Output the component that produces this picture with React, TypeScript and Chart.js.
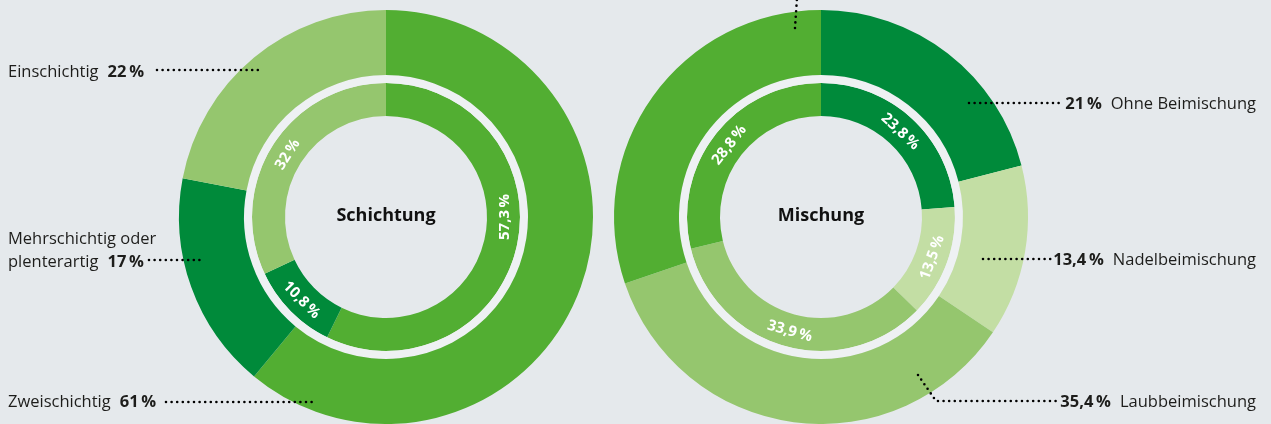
import React, { useEffect, useRef } from "react";
import { Chart, registerables } from "chart.js";

Chart.register(...registerables);

// ---------- data ----------
const schichtungCategories = ["Zweischichtig", "Mehrschichtig oder plenterartig", "Einschichtig"];
const schichtungOuter = [61, 17, 22];
const schichtungInner = [57.3, 10.8, 32];

const mischungCategories = ["Ohne Beimischung", "Nadelbeimischung", "Laubbeimischung", "Sonstige"];
const mischungOuter = [21, 13.4, 35.4, 30.2];
const mischungInner = [23.8, 13.5, 33.9, 28.8];

const schichtungTitle = "Schichtung";
const mischungTitle = "Mischung";

// ---------- style ----------
const BG = "#e5e9ec";
const GAP = "#eef1f3";
const MEDIUM = "#52ae32";
const DARK = "#008a3a";
const LIGHT = "#95c66e";
const PALE = "#c3dea4";
const TEXT = "#1d1d1b";
const FONT = "'Open Sans', 'Noto Sans', sans-serif";
const W = 1271;
const H = 424;

const fmt = (v: number) => String(v).replace(".", ",") + "\u2009%";

type Piece = { t: string; bold?: boolean };
type OuterLabel = {
  lines: { pieces: Piece[]; baseline: number }[];
  x: number;
  align: "left" | "right";
  dots: number[][];
};

function drawDots(ctx: CanvasRenderingContext2D, pts: number[][]) {
  ctx.save();
  ctx.strokeStyle = "#000";
  ctx.lineWidth = 2.6;
  ctx.lineCap = "round";
  ctx.setLineDash([0, 5.6]);
  ctx.beginPath();
  pts.forEach((p, i) => (i === 0 ? ctx.moveTo(p[0], p[1]) : ctx.lineTo(p[0], p[1])));
  ctx.stroke();
  ctx.restore();
}

function drawPieces(ctx: CanvasRenderingContext2D, pieces: Piece[], x: number, baseline: number, align: "left" | "right") {
  const gap = 9;
  const fonts = pieces.map((p) => `${p.bold ? "700" : "400"} 16.5px ${FONT}`);
  const widths = pieces.map((p, i) => {
    ctx.font = fonts[i];
    return ctx.measureText(p.t).width;
  });
  const total = widths.reduce((a, b) => a + b, 0) + gap * (pieces.length - 1);
  let cx = align === "left" ? x : x - total;
  ctx.fillStyle = TEXT;
  ctx.textAlign = "left";
  ctx.textBaseline = "alphabetic";
  pieces.forEach((p, i) => {
    ctx.font = fonts[i];
    ctx.fillText(p.t, cx, baseline);
    cx += widths[i] + gap;
  });
}

type Cfg = {
  categories: string[];
  outer: number[];
  inner: number[];
  colors: string[];
  padding: { left: number; right: number; top: number; bottom: number };
  title: string;
  labelAngle: (number | null)[];
  outerLabels: OuterLabel[];
  extraDots: number[][][];
};

function labelPlugin(cfg: Cfg) {
  return {
    id: "ringLabels",
    afterDatasetsDraw(chart: any) {
      const ctx: CanvasRenderingContext2D = chart.ctx;
      const meta = chart.getDatasetMeta(2);
      let cxc = 0;
      let cyc = 0;
      meta.data.forEach((arc: any, i: number) => {
        const { x, y, startAngle, endAngle, innerRadius, outerRadius } = arc.getProps(
          ["x", "y", "startAngle", "endAngle", "innerRadius", "outerRadius"],
          true
        );
        cxc = x;
        cyc = y;
        let mid = (startAngle + endAngle) / 2;
        const ov = cfg.labelAngle[i];
        if (ov != null) mid = -Math.PI / 2 + (ov * Math.PI) / 180;
        const r = (innerRadius + outerRadius) / 2;
        const px = x + r * Math.cos(mid);
        const py = y + r * Math.sin(mid);
        let deg = (((mid + Math.PI / 2) * 180) / Math.PI) % 360;
        if (deg < 0) deg += 360;
        const rot = deg >= 89.9 && deg <= 270 ? deg - 180 : deg > 270 ? deg - 360 : deg;
        ctx.save();
        ctx.translate(px, py);
        ctx.rotate((rot * Math.PI) / 180);
        ctx.font = `700 15px ${FONT}`;
        ctx.fillStyle = "#ffffff";
        ctx.textAlign = "center";
        ctx.textBaseline = "middle";
        ctx.fillText(fmt(cfg.inner[i]), 0, 1);
        ctx.restore();
      });

      // centre title
      ctx.save();
      ctx.font = `700 18px ${FONT}`;
      ctx.fillStyle = "#111";
      ctx.textAlign = "center";
      ctx.textBaseline = "alphabetic";
      ctx.fillText(cfg.title, cxc, cyc + 4);
      ctx.restore();

      // outer labels with dotted leaders
      cfg.outerLabels.forEach((l) => {
        drawDots(ctx, l.dots);
        l.lines.forEach((ln) => drawPieces(ctx, ln.pieces, l.x, ln.baseline, l.align));
      });
      cfg.extraDots.forEach((d) => drawDots(ctx, d));
    },
  };
}

function makeChart(canvas: HTMLCanvasElement, cfg: Cfg) {
  return new Chart(canvas, {
    type: "doughnut",
    data: {
      labels: cfg.categories,
      datasets: [
        { data: cfg.outer, backgroundColor: cfg.colors, borderWidth: 0, weight: 65 } as any,
        { data: [1], backgroundColor: [GAP], borderWidth: 0, weight: 8 } as any,
        { data: cfg.inner, backgroundColor: cfg.colors, borderWidth: 0, weight: 33 } as any,
      ],
    },
    options: {
      responsive: false,
      maintainAspectRatio: false,
      animation: false,
      events: [],
      cutout: 101,
      layout: { padding: cfg.padding },
      plugins: { legend: { display: false }, tooltip: { enabled: false } },
    } as any,
    plugins: [labelPlugin(cfg)],
  });
}

const leftCfg: Cfg = {
  categories: schichtungCategories,
  outer: schichtungOuter,
  inner: schichtungInner,
  colors: [MEDIUM, DARK, LIGHT],
  padding: { left: 179, right: W - 593, top: 10, bottom: 0 },
  title: schichtungTitle,
  labelAngle: [90, null, null],
  outerLabels: [
    {
      lines: [{ pieces: [{ t: schichtungCategories[2] }, { t: fmt(schichtungOuter[2]), bold: true }], baseline: 77 }],
      x: 8,
      align: "left",
      dots: [[157, 70], [259, 70]],
    },
    {
      lines: [
        { pieces: [{ t: "Mehrschichtig oder" }], baseline: 244 },
        { pieces: [{ t: "plenterartig" }, { t: fmt(schichtungOuter[1]), bold: true }], baseline: 267 },
      ],
      x: 8,
      align: "left",
      dots: [[149, 260], [200, 260]],
    },
    {
      lines: [{ pieces: [{ t: schichtungCategories[0] }, { t: fmt(schichtungOuter[0]), bold: true }], baseline: 407 }],
      x: 8,
      align: "left",
      dots: [[166, 402], [313, 402]],
    },
  ],
  extraDots: [],
};

const rightCfg: Cfg = {
  categories: mischungCategories,
  outer: mischungOuter,
  inner: mischungInner,
  colors: [DARK, PALE, LIGHT, MEDIUM],
  padding: { left: 614, right: W - 1028, top: 10, bottom: 0 },
  title: mischungTitle,
  labelAngle: [null, null, null, null],
  outerLabels: [
    {
      lines: [{ pieces: [{ t: fmt(mischungOuter[0]), bold: true }, { t: mischungCategories[0] }], baseline: 109 }],
      x: 1256,
      align: "right",
      dots: [[969, 103], [1062, 103]],
    },
    {
      lines: [{ pieces: [{ t: fmt(mischungOuter[1]), bold: true }, { t: mischungCategories[1] }], baseline: 265 }],
      x: 1256,
      align: "right",
      dots: [[983, 259], [1052, 259]],
    },
    {
      lines: [{ pieces: [{ t: fmt(mischungOuter[2]), bold: true }, { t: mischungCategories[2] }], baseline: 407 }],
      x: 1256,
      align: "right",
      dots: [[918, 375], [936, 401], [1058, 401]],
    },
  ],
  extraDots: [[[795, 28], [797, -2]]],
};

export default function App() {
  const leftRef = useRef<HTMLCanvasElement>(null);
  const rightRef = useRef<HTMLCanvasElement>(null);

  useEffect(() => {
    document.body.style.margin = "0";
    document.body.style.background = BG;
    const a = makeChart(leftRef.current!, leftCfg);
    const b = makeChart(rightRef.current!, rightCfg);
    return () => {
      a.destroy();
      b.destroy();
    };
  }, []);

  const canvasStyle: React.CSSProperties = { position: "absolute", left: 0, top: 0, width: W, height: H };
  return (
    <div style={{ position: "fixed", left: 0, top: 0, width: W, height: H, background: BG, overflow: "hidden" }}>
      <canvas ref={leftRef} width={W} height={H} style={canvasStyle} />
      <canvas ref={rightRef} width={W} height={H} style={canvasStyle} />
    </div>
  );
}
